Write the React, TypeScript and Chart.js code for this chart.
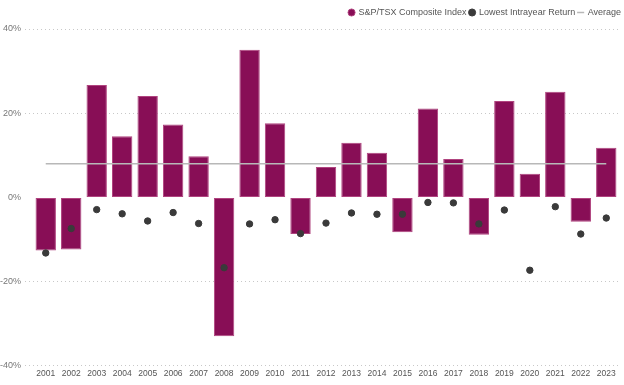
import React, { useEffect, useRef } from "react";
import { Chart, registerables } from "chart.js";

Chart.register(...registerables);

const years = ["2001","2002","2003","2004","2005","2006","2007","2008","2009","2010","2011","2012","2013","2014","2015","2016","2017","2018","2019","2020","2021","2022","2023"];
const annualReturns = [-12.6,-12.4,26.7,14.5,24.1,17.3,9.8,-33.0,35.1,17.6,-8.7,7.2,13.0,10.6,-8.3,21.1,9.1,-8.9,22.9,5.6,25.1,-5.8,11.8];
const lowestIntrayear = [-13.2,-7.4,-2.9,-3.9,-5.6,-3.6,-6.2,-16.7,-6.3,-5.3,-8.6,-6.1,-3.7,-4.0,-4.0,-1.2,-1.3,-6.3,-3.0,-17.3,-2.2,-8.7,-4.9];
const averageValue = 8.0;
const averageLine = years.map(() => averageValue);
const yTicks = [-40, -20, 0, 20, 40];

export default function App() {
  const ref = useRef<HTMLCanvasElement>(null);
  useEffect(() => {
    if (!ref.current) return;
    const font = "'Liberation Sans', Arial, sans-serif";
    const gridColor = (ctx: any) => (ctx.tick && ctx.tick.value === 0 ? "rgba(0,0,0,0)" : "#c8c8c8");
    const chart = new Chart(ref.current, {
      type: "bar",
      data: {
        labels: years,
        datasets: [
          {
            type: "line",
            label: "Average",
            data: averageLine,
            borderColor: "#b8b8b8",
            backgroundColor: "#b8b8b8",
            borderWidth: 1.5,
            pointRadius: 0,
            pointStyle: "line",
            order: 0,
          },
          {
            type: "bar",
            label: "S&P/TSX Composite Index",
            data: annualReturns,
            backgroundColor: "#880E56",
            borderColor: "#B0447F",
            borderWidth: 1,
            borderSkipped: false,
            categoryPercentage: 0.8,
            barPercentage: 1,
            pointStyle: "circle",
            order: 2,
          },
          {
            type: "line",
            label: "Lowest Intrayear Return",
            data: lowestIntrayear,
            showLine: false,
            pointRadius: 3.2,
            pointBackgroundColor: "#3a3a3a",
            pointBorderColor: "#3a3a3a",
            backgroundColor: "#3a3a3a",
            borderColor: "#3a3a3a",
            pointStyle: "circle",
            order: 1,
          },
        ],
      },
      options: {
        animation: false,
        responsive: true,
        maintainAspectRatio: false,
        layout: { padding: { left: 0, right: 0, top: 5, bottom: 3 } },
        plugins: {
          tooltip: { enabled: false },
          legend: {
            position: "top",
            align: "end",
            labels: {
              usePointStyle: true,
              boxWidth: 5,
              boxHeight: 5,
              padding: 3,
              color: "#555",
              font: { family: font, size: 9 },
              sort: (a: any, b: any) => {
                const ord = ["S&P/TSX Composite Index", "Lowest Intrayear Return", "Average"];
                return ord.indexOf(a.text) - ord.indexOf(b.text);
              },
            },
          },
        },
        scales: {
          x: {
            grid: { display: false, drawTicks: false, tickLength: 0 },
            border: { display: false },
            ticks: { color: "#555", font: { family: font, size: 8.5 }, maxRotation: 0, autoSkip: false, padding: 3 },
          },
          xTop: {
            type: "category",
            position: "top",
            grid: { display: false, drawTicks: false },
            border: { display: false },
            ticks: { display: false },
            afterFit: (axis: any) => {
              axis.height = 2;
            },
          },
          y: {
            min: -40,
            max: 40,
            afterBuildTicks: (axis: any) => {
              axis.ticks = yTicks.map((v) => ({ value: v }));
            },
            afterFit: (axis: any) => {
              axis.width = 33;
            },
            border: { display: false, dash: [1, 3] },
            grid: {
              color: gridColor,
              tickColor: gridColor,
              tickBorderDash: [1, 3],
              lineWidth: 1,
              tickLength: 8,
              drawTicks: true,
            },
            ticks: {
              color: "#777",
              font: { family: font, size: 9 },
              padding: 4,
              callback: (v: any) => v + "%",
            },
          },
        },
      },
    });
    return () => chart.destroy();
  }, []);
  return (
    <div style={{ position: "fixed", left: 0, top: 0, width: 624, height: 385, background: "#fff" }}>
      <canvas ref={ref} />
    </div>
  );
}
